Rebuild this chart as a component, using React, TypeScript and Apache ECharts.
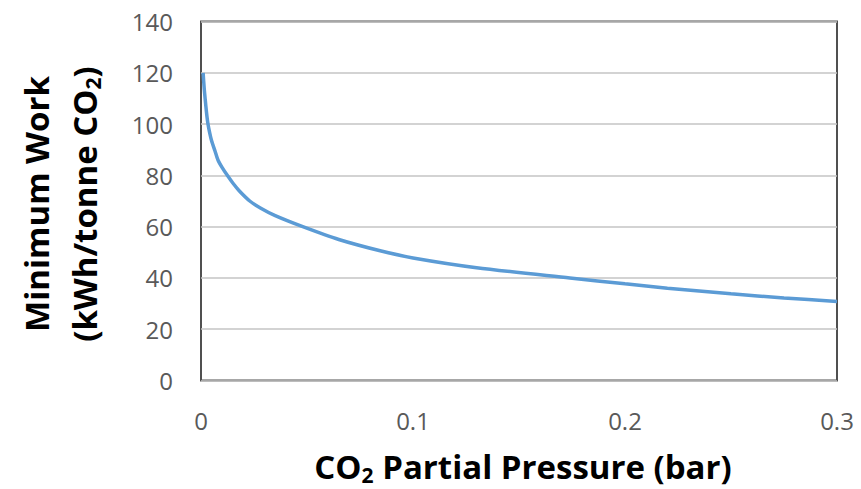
import React, { useEffect, useRef } from "react";
import * as echarts from "echarts";

const pressures = [0.001, 0.0015, 0.002, 0.0026, 0.0032, 0.004, 0.005, 0.0066, 0.008, 0.01, 0.0124, 0.015, 0.018, 0.023, 0.028, 0.035, 0.048, 0.065, 0.085, 0.1, 0.13, 0.174, 0.2, 0.22, 0.25, 0.275, 0.3];
const minWork = [120, 114, 109.5, 104.5, 100.5, 97, 93.5, 89.5, 86, 83, 80, 77, 74, 70, 67.3, 64.3, 60, 55, 50.5, 47.8, 44, 40, 37.7, 36, 33.8, 32.2, 30.8];
const xTicks = [0, 0.1, 0.2, 0.3];
const yTicks = [0, 20, 40, 60, 80, 100, 120, 140];

const FONT = "'Open Sans', sans-serif";

export default function App() {
  const ref = useRef<HTMLDivElement>(null);
  useEffect(() => {
    if (!ref.current) return;
    const chart = echarts.init(ref.current, null, { renderer: "svg" });
    const data = pressures.map((p, i) => [p, minWork[i]]);
    const subStyle = { fontSize: 21, fontWeight: "bold", fontFamily: FONT, fill: "#000", lineHeight: 21, padding: [18, 0, 0, 0] };
    chart.setOption({
      animation: false,
      grid: {
        left: 201,
        right: 24,
        top: 21.5,
        bottom: 108.5,
        show: true,
        borderColor: "#505050",
        borderWidth: 2,
        backgroundColor: "transparent",
      },
      xAxis: {
        type: "value",
        min: xTicks[0],
        max: xTicks[xTicks.length - 1],
        interval: 0.1,
        axisLine: { show: false },
        axisTick: { show: false },
        splitLine: { show: false },
        axisLabel: {
          color: "#595959",
          fontFamily: FONT,
          fontSize: 24,
          margin: 28,
          formatter: (v: number) => {
            const t = xTicks.find((x) => Math.abs(x - v) < 1e-9);
            return t === undefined ? "" : String(t);
          },
        },
      },
      yAxis: {
        type: "value",
        min: yTicks[0],
        max: yTicks[yTicks.length - 1],
        interval: 20,
        axisLine: { show: false },
        axisTick: { show: false },
        splitLine: { show: true, lineStyle: { color: "#C4C4C4", width: 1.5 } },
        axisLabel: {
          color: "#595959",
          fontFamily: FONT,
          fontSize: 24,
          margin: 28,
        },
      },
      series: [
        {
          type: "line",
          data,
          smooth: 0.25,
          showSymbol: false,
          lineStyle: { color: "#5B9BD5", width: 3.5 },
        },
      ],
      graphic: [
        {
          type: "text",
          x: 523,
          y: 466,
          style: {
            text: "CO{sub|2} Partial Pressure (bar)",
            fill: "#000",
            font: `bold 33px ${FONT}`,
            align: "center",
            verticalAlign: "middle",
            lineHeight: 40,
            rich: { sub: subStyle },
          },
        },
        {
          type: "text",
          x: 60,
          y: 204,
          rotation: Math.PI / 2,
          style: {
            text: "Minimum Work\n(kWh/tonne CO{sub|2})",
            fill: "#000",
            font: `bold 33px ${FONT}`,
            align: "center",
            verticalAlign: "middle",
            lineHeight: 48,
            rich: { sub: subStyle },
          },
        },
      ],
    });
    return () => chart.dispose();
  }, []);
  return <div ref={ref} style={{ width: 861, height: 489, position: "absolute", left: 0, top: 0 }} />;
}
